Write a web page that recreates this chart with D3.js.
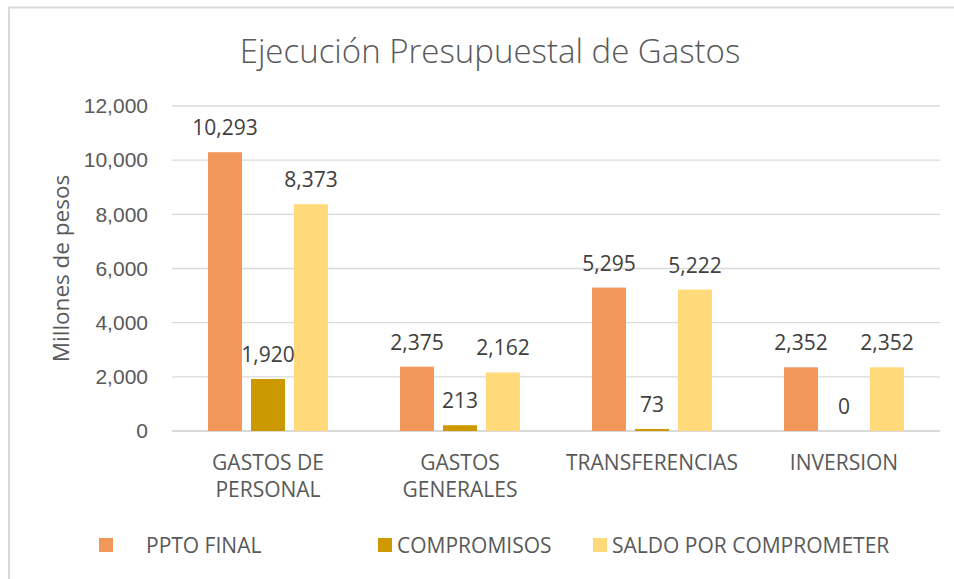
<!DOCTYPE html>
<html>
<head>
<meta charset="utf-8">
<script src="https://cdn.jsdelivr.net/npm/d3@7"></script>
<style>
  html, body { margin: 0; padding: 0; background: #fff; }
  svg { display: block; font-family: "Open Sans", sans-serif; }
</style>
</head>
<body>
<svg id="chart" width="954" height="579"></svg>
<script>
// data
const categories = ['GASTOS DE PERSONAL', 'GASTOS GENERALES', 'TRANSFERENCIAS', 'INVERSION'];
const seriesNames = ['PPTO FINAL', 'COMPROMISOS', 'SALDO POR COMPROMETER'];
const pptoFinal = [10293, 2375, 5295, 2352];
const compromisos = [1920, 213, 73, 0];
const saldo = [8373, 2162, 5222, 2352];
const yTicks = [0, 2000, 4000, 6000, 8000, 10000, 12000];

const colors = ['#F1975A', '#CC9900', '#FFD97A'];
const seriesValues = [pptoFinal, compromisos, saldo];

const width = 954, height = 579;
const margin = { top: 106, right: 14, bottom: 148, left: 172 };

const svg = d3.select('#chart');

// chart frame (only left and top edges are in view)
svg.append('path')
    .attr('d', `M9,${height} V7.5 H${width}`)
    .attr('fill', 'none')
    .attr('stroke', '#D9D9D9')
    .attr('stroke-width', 2);

// title
svg.append('text')
    .attr('x', 490)
    .attr('y', 63)
    .attr('text-anchor', 'middle')
    .attr('font-size', 33)
    .attr('font-weight', 300)
    .attr('fill', '#595959')
    .text('Ejecución Presupuestal de Gastos');

//----------------------------------------------------------------------------
const y = d3.scaleLinear()
    .domain([0, 12000])
    .range([height - margin.bottom, margin.top]);

const x0 = d3.scaleBand()
    .domain(categories)
    .range([margin.left, width - margin.right])
    .padding(0);

const bw = x0.bandwidth();
const x1 = d3.scaleBand()
    .domain(seriesNames)
    .range([bw * 0.1875, bw * 0.8125])
    .paddingInner(0.21)
    .paddingOuter(0);

// gridlines
svg.append('g')
    .selectAll('line')
    .data(yTicks)
    .join('line')
    .attr('x1', margin.left)
    .attr('x2', width - margin.right)
    .attr('y1', d => y(d))
    .attr('y2', d => y(d))
    .attr('stroke', '#D9D9D9')
    .attr('stroke-width', d => d === 0 ? 2 : 1.3);

// y axis labels
const yAxis = d3.axisLeft(y)
    .tickValues(yTicks)
    .tickFormat(d3.format(','))
    .tickSize(0)
    .tickPadding(24);

const yg = svg.append('g')
    .attr('transform', `translate(${margin.left}, 0)`)
    .call(yAxis);
yg.select('.domain').remove();
yg.selectAll('text')
    .attr('font-size', 21)
    .attr('fill', '#595959')
    .attr('font-family', 'inherit');

// y axis title
svg.append('text')
    .attr('transform', `translate(69, ${y(6000)}) rotate(-90)`)
    .attr('text-anchor', 'middle')
    .attr('font-size', 22.5)
    .attr('fill', '#595959')
    .text('Millones de pesos');

//----------------------------------------------------------------------------
// bars
const rows = categories.map((c, i) => ({
    category: c,
    values: seriesNames.map((s, j) => ({ series: s, value: seriesValues[j][i], color: colors[j] }))
}));

const groups = svg.append('g')
    .selectAll('g')
    .data(rows)
    .join('g')
    .attr('transform', d => `translate(${x0(d.category)}, 0)`);

groups.selectAll('rect')
    .data(d => d.values)
    .join('rect')
    .attr('x', d => x1(d.series))
    .attr('width', x1.bandwidth())
    .attr('y', d => y(d.value))
    .attr('height', d => y(0) - y(d.value))
    .attr('fill', d => d.color);

groups.selectAll('text')
    .data(d => d.values)
    .join('text')
    .attr('x', d => x1(d.series) + x1.bandwidth() / 2)
    .attr('y', d => y(d.value) - 17)
    .attr('text-anchor', 'middle')
    .attr('font-size', 21)
    .attr('fill', '#404040')
    .text(d => d3.format(',')(d.value));

//----------------------------------------------------------------------------
// category labels, wrapped by words
const maxLabelWidth = 160;
const catLabels = svg.append('g')
    .selectAll('text')
    .data(categories)
    .join('text')
    .attr('x', d => x0(d) + bw / 2)
    .attr('y', y(0) + 39)
    .attr('text-anchor', 'middle')
    .attr('font-size', 21)
    .attr('fill', '#595959');

catLabels.each(function(d) {
    const t = d3.select(this);
    const words = d.split(' ');
    let line = [];
    let tspan = t.append('tspan').attr('x', t.attr('x')).attr('dy', 0);
    words.forEach(w => {
        line.push(w);
        tspan.text(line.join(' '));
        if (tspan.node().getComputedTextLength() > maxLabelWidth && line.length > 1) {
            line.pop();
            tspan.text(line.join(' '));
            line = [w];
            tspan = t.append('tspan').attr('x', t.attr('x')).attr('dy', 27).text(w);
        }
    });
});

//----------------------------------------------------------------------------
// legend
const legendX = [99, 378, 593];
const legend = svg.append('g')
    .selectAll('g')
    .data(seriesNames)
    .join('g')
    .attr('transform', (d, i) => `translate(${legendX[i]}, 538)`);

legend.append('rect')
    .attr('width', 14)
    .attr('height', 14)
    .attr('fill', (d, i) => colors[i]);

legend.append('text')
    .attr('x', (d, i) => i === 0 ? 47 : 19)
    .attr('y', 15)
    .attr('font-size', 21)
    .attr('fill', '#595959')
    .text(d => d);
</script>
</body>
</html>
